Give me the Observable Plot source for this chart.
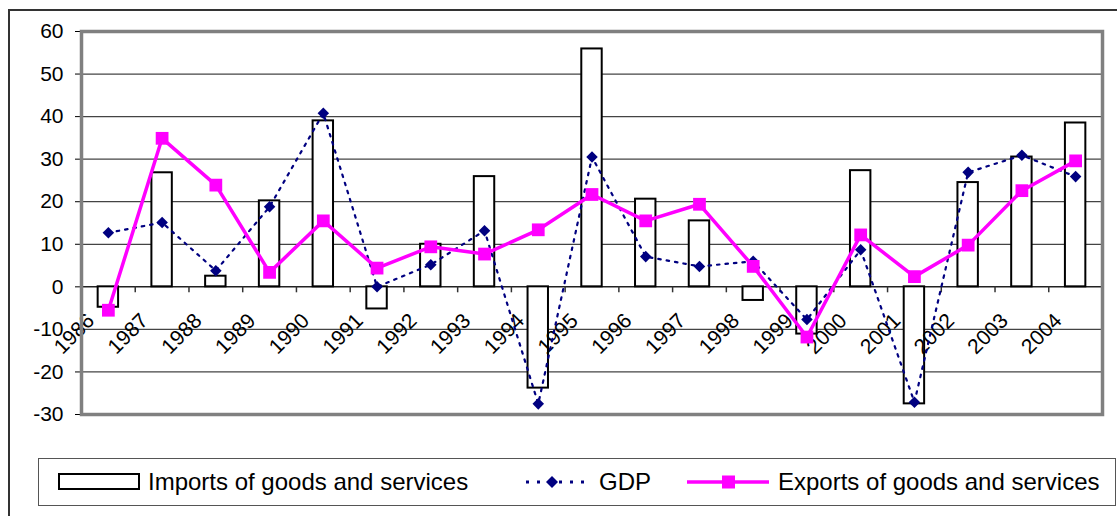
<!DOCTYPE html>
<html>
<head>
<meta charset="utf-8">
<script src="https://cdn.jsdelivr.net/npm/d3@7"></script>
<script src="https://cdn.jsdelivr.net/npm/@observablehq/plot@0.6"></script>
<style>
  html, body { margin: 0; padding: 0; background: #fff; }
  #wrap { position: relative; width: 1117px; height: 516px; overflow: hidden; font-family: "Liberation Sans", Arial, sans-serif; }
  #outer { position: absolute; left: 8px; top: 9px; width: 1200px; height: 600px; border: 2px solid #333; box-sizing: border-box; }
  #chart { position: absolute; left: 0; top: 0; }
  #chart g[aria-label^="y-axis"] { font-size: 21px; }
  #legend { position: absolute; left: 38px; top: 458px; width: 1078px; height: 48px; border: 1.5px solid #555; box-sizing: border-box; background: #fff; }
  .item { position: absolute; top: 0; height: 45px; display: flex; align-items: center; font-size: 24px; color: #000; white-space: nowrap; }
  .item svg { margin-right: 6px; }
</style>
</head>
<body>
<div id="wrap">
  <div id="outer"></div>
  <div id="chart"></div>
  <div id="legend"></div>
</div>
<script>
const years = [1986, 1987, 1988, 1989, 1990, 1991, 1992, 1993, 1994, 1995, 1996, 1997, 1998, 1999, 2000, 2001, 2002, 2003, 2004];
const imports = [-4.8, 26.8, 2.5, 20.2, 39.0, -5.2, 10.0, 25.9, -23.8, 55.9, 20.6, 15.5, -3.2, -11.1, 27.3, -27.5, 24.5, 30.5, 38.5];
const gdp = [12.7, 15.1, 3.8, 18.8, 40.8, 0.0, 5.2, 13.2, -27.5, 30.5, 7.1, 4.8, 6.0, -7.7, 8.7, -27.1, 26.9, 30.9, 25.9];
const exportsV = [-5.5, 34.9, 23.9, 3.4, 15.5, 4.4, 9.4, 7.7, 13.4, 21.7, 15.5, 19.4, 4.8, -11.8, 12.2, 2.4, 9.8, 22.6, 29.6];
const yTicks = [-30, -20, -10, 0, 10, 20, 30, 40, 50, 60];
const gridValues = [-20, -10, 10, 20, 30, 40, 50];
const seriesNames = ["Imports of goods and services", "GDP", "Exports of goods and services"];

const data = years.map((year, i) => ({year, imports: imports[i], gdp: gdp[i], exports: exportsV[i]}));
const boundaries = [...years.map(y => y - 0.5), years[years.length - 1] + 0.5];

const navy = "#000080", magenta = "#FF00FF";

const chart = Plot.plot({
  width: 1117,
  height: 450,
  marginLeft: 81,
  marginRight: 15,
  marginTop: 31,
  marginBottom: 36,
  style: {background: "transparent", overflow: "visible", fontFamily: "Liberation Sans, Arial, sans-serif", fontSize: "21px", color: "#000"},
  x: {domain: [1985.5, 2004.5], axis: null},
  y: {domain: [-30, 60], ticks: yTicks, tickSize: 6, tickPadding: 12, label: null, tickFormat: d => String(d)},
  marks: [
    Plot.ruleY(gridValues, {stroke: "#444", strokeWidth: 1.2}),
    Plot.ruleY([0], {stroke: "#222", strokeWidth: 1.5}),
    Plot.ruleX(boundaries, {y1: 0, y2: -1.4, stroke: "#333", strokeWidth: 1.5}),
    Plot.rect(data, {x1: d => d.year - 0.19, x2: d => d.year + 0.19, y1: 0, y2: "imports", fill: "#fff", stroke: "#000", strokeWidth: 2}),
    Plot.text(data, {x: "year", y: d => 0, text: d => String(d.year), rotate: -45, textAnchor: "end", dx: -17.5, dy: 30.5, fontSize: 21, fill: "#000"}),
    Plot.line(data, {x: "year", y: "gdp", stroke: navy, strokeWidth: 2.2, strokeDasharray: "2.5,6"}),
    Plot.dot(data, {x: "year", y: "gdp", symbol: "diamond2", r: 5.2, fill: navy, stroke: "none"}),
    Plot.line(data, {x: "year", y: "exports", stroke: magenta, strokeWidth: 3.5}),
    Plot.dot(data, {x: "year", y: "exports", symbol: "square", r: 7.2, fill: magenta, stroke: "none"}),
    Plot.frame({stroke: "#808080", strokeWidth: 3.5})
  ]
});
document.getElementById("chart").appendChild(chart);

// Legend
const legend = document.getElementById("legend");
const items = [
  {left: 19, label: seriesNames[0], svg: `<svg width="84" height="20"><rect x="1" y="2" width="80" height="15" fill="#fff" stroke="#000" stroke-width="2"/></svg>`},
  {left: 486, label: seriesNames[1], svg: `<svg width="68" height="20"><line x1="1" y1="10" x2="64" y2="10" stroke="${navy}" stroke-width="3" stroke-dasharray="3,8"/><path d="M27,4 L33,10 L27,16 L21,10 Z" fill="${navy}"/></svg>`},
  {left: 647, label: seriesNames[2], svg: `<svg width="86" height="20"><line x1="1" y1="10" x2="83" y2="10" stroke="${magenta}" stroke-width="3.5"/><rect x="36" y="3.5" width="13" height="13" fill="${magenta}"/></svg>`}
];
for (const it of items) {
  const div = document.createElement("div");
  div.className = "item";
  div.style.left = it.left + "px";
  div.innerHTML = it.svg + `<span>${it.label}</span>`;
  legend.appendChild(div);
}
</script>
</body>
</html>
